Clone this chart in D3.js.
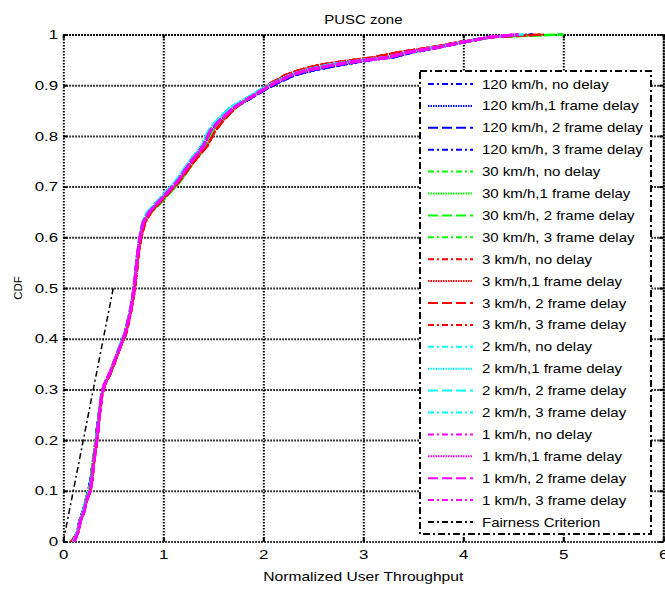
<!DOCTYPE html>
<html>
<head>
<meta charset="utf-8">
<script src="https://cdn.jsdelivr.net/npm/d3@7"></script>
<style>
  body { margin: 0; background: #fff; }
  text { font-family: "Liberation Sans", Arial, sans-serif; fill: #000; }
</style>
</head>
<body>
<script>
var cdfLevels = [0, 0.02, 0.04, 0.06, 0.08, 0.10, 0.12, 0.15, 0.18, 0.20,
  0.23, 0.26, 0.29, 0.31, 0.33, 0.35, 0.38, 0.41, 0.45, 0.49,
  0.53, 0.57, 0.60, 0.63, 0.65, 0.665, 0.68, 0.71, 0.75, 0.78,
  0.81, 0.83, 0.855, 0.87, 0.89, 0.905, 0.92, 0.93, 0.94, 0.945,
  0.95, 0.955, 0.965, 0.975, 0.985, 0.995, 1.0];

var tput120 = [0.09, 0.14, 0.16, 0.195, 0.22, 0.25, 0.27, 0.29, 0.31, 0.325,
  0.34, 0.36, 0.38, 0.41, 0.46, 0.50, 0.555, 0.615, 0.665, 0.70,
  0.72, 0.74, 0.765, 0.80, 0.86, 0.93, 1.0, 1.15, 1.29, 1.41,
  1.48, 1.57, 1.71, 1.84, 2.01, 2.15, 2.32, 2.52, 2.78, 2.93,
  3.1, 3.3, 3.5, 3.78, 4.02, 4.3, 4.7];
var tput30 = [0.10, 0.14, 0.165, 0.20, 0.22, 0.255, 0.275, 0.29, 0.31, 0.325,
  0.345, 0.36, 0.38, 0.41, 0.47, 0.51, 0.565, 0.62, 0.665, 0.70,
  0.725, 0.75, 0.775, 0.815, 0.88, 0.96, 1.03, 1.17, 1.31, 1.43,
  1.50, 1.59, 1.72, 1.83, 1.97, 2.10, 2.27, 2.45, 2.68, 2.85,
  3.05, 3.25, 3.45, 3.75, 4.0, 4.3, 5.0];
var tput3 = [0.08, 0.15, 0.17, 0.21, 0.235, 0.27, 0.29, 0.305, 0.325, 0.34,
  0.355, 0.37, 0.39, 0.42, 0.47, 0.51, 0.565, 0.63, 0.675, 0.71,
  0.735, 0.755, 0.78, 0.82, 0.88, 0.95, 1.02, 1.16, 1.31, 1.44,
  1.52, 1.60, 1.72, 1.82, 1.97, 2.08, 2.22, 2.36, 2.56, 2.72,
  2.90, 3.10, 3.35, 3.68, 3.95, 4.3, 4.8];
var tput2 = [0.10, 0.14, 0.165, 0.20, 0.225, 0.26, 0.28, 0.30, 0.32, 0.33,
  0.345, 0.365, 0.385, 0.41, 0.46, 0.50, 0.55, 0.61, 0.66, 0.695,
  0.72, 0.74, 0.76, 0.79, 0.84, 0.91, 0.98, 1.12, 1.26, 1.38,
  1.45, 1.53, 1.66, 1.79, 1.96, 2.10, 2.26, 2.42, 2.64, 2.80,
  3.00, 3.22, 3.44, 3.72, 3.98, 4.25, 4.6];
var tput1 = [0.11, 0.15, 0.17, 0.21, 0.23, 0.27, 0.285, 0.30, 0.32, 0.335,
  0.35, 0.367, 0.385, 0.41, 0.46, 0.50, 0.56, 0.617, 0.667, 0.70,
  0.724, 0.745, 0.767, 0.80, 0.86, 0.93, 1.0, 1.14, 1.28, 1.40,
  1.47, 1.56, 1.70, 1.82, 1.99, 2.12, 2.28, 2.45, 2.70, 2.85,
  3.05, 3.25, 3.45, 3.75, 4.0, 4.27, 4.55];

var fairX = [0, 0.5];
var fairY = [0, 0.5];

var speeds = ['120 km/h', '30 km/h', '3 km/h', '2 km/h', '1 km/h'];
var delays = [', no delay', ',1 frame delay', ', 2 frame delay', ', 3 frame delay'];
var speedData = [tput120, tput30, tput3, tput2, tput1];
var colors = ['#0000ff', '#00ff00', '#ff0000', '#00ffff', '#ff00ff'];
var dashes = ['6,3,2,3', '1.5,1', '10,4', '6,3,2,3'];

var xTicks = [0, 1, 2, 3, 4, 5, 6];
var yTicks = [0, 0.1, 0.2, 0.3, 0.4, 0.5, 0.6, 0.7, 0.8, 0.9, 1];

var W = 665, H = 589;
var pL = 63.3, pR = 663.3, pT = 34.5, pB = 541.5;
var sx = 1.3; // the picture is stretched sideways

var x = d3.scaleLinear().domain([0, 6]).range([pL, pR]);
var y = d3.scaleLinear().domain([0, 1]).range([pB, pT]);

var svg = d3.select('body').append('svg')
  .attr('width', W)
  .attr('height', H);

// grid
var gridStyle = function(g) {
  g.select('.domain').remove();
  g.selectAll('line')
    .attr('stroke', '#000')
    .attr('stroke-width', 2)
    .attr('stroke-dasharray', '1.5,1.5');
};
svg.append('g')
  .attr('transform', 'translate(0,' + pB + ')')
  .call(d3.axisBottom(x).tickValues(xTicks).tickSize(-(pB - pT)).tickFormat(''))
  .call(gridStyle);
svg.append('g')
  .attr('transform', 'translate(' + pL + ',0)')
  .call(d3.axisLeft(y).tickValues(yTicks).tickSize(-(pR - pL)).tickFormat(''))
  .call(gridStyle);
svg.append('g')
  .attr('transform', 'translate(0,' + pT + ')')
  .call(d3.axisTop(x).tickValues(xTicks).tickSize(-4).tickFormat(''))
  .call(function(g) {
    g.select('.domain').attr('stroke', '#000').attr('stroke-width', 2).attr('stroke-dasharray', '1.5,1.5');
    g.selectAll('line').attr('stroke', '#000').attr('stroke-width', 2);
  });
svg.append('g')
  .attr('transform', 'translate(' + pR + ',0)')
  .call(d3.axisRight(y).tickValues(yTicks).tickSize(-4).tickFormat(''))
  .call(function(g) {
    g.select('.domain').attr('stroke', '#000').attr('stroke-width', 2).attr('stroke-dasharray', '1.5,1.5');
    g.selectAll('line').attr('stroke', '#000').attr('stroke-width', 2);
  });

// curves
var line = d3.line()
  .x(function(d) { return x(d[0]); })
  .y(function(d) { return y(d[1]); });

speedData.forEach(function(arr, i) {
  var pts = arr.map(function(v, k) { return [v, cdfLevels[k]]; });
  dashes.forEach(function(da, j) {
    svg.append('path')
      .datum(pts)
      .attr('fill', 'none')
      .attr('stroke', colors[i])
      .attr('stroke-width', i == 4 ? 3 : 2.2)
      .attr('stroke-dasharray', da)
      .attr('d', line);
  });
});

svg.append('path')
  .datum(fairX.map(function(v, k) { return [v, fairY[k]]; }))
  .attr('fill', 'none')
  .attr('stroke', '#000')
  .attr('stroke-width', 1.5)
  .attr('stroke-dasharray', '6,3,2,3')
  .attr('d', line);

// axes labels and small ticks
var tickStyle = function(g, fs) {
  g.select('.domain').remove();
  g.selectAll('line').attr('stroke', '#000').attr('stroke-width', 2);
  g.selectAll('text').style('font-size', fs + 'px');
};
var xAxis = svg.append('g')
  .attr('transform', 'translate(0,' + pB + ')')
  .call(d3.axisBottom(x).tickValues(xTicks).tickSize(-4).tickPadding(8).tickFormat(d3.format('~g')))
  .call(tickStyle, 13);
xAxis.selectAll('text').attr('transform', 'scale(' + sx + ',1)');

var yAxis = svg.append('g')
  .attr('transform', 'translate(' + pL + ',0)')
  .call(d3.axisLeft(y).tickValues(yTicks).tickSize(-4).tickPadding(4).tickFormat(d3.format('~g')))
  .call(tickStyle, 13);
yAxis.selectAll('text').attr('transform', 'scale(' + sx + ',1)');

svg.append('text')
  .attr('transform', 'translate(' + ((pL + pR) / 2) + ',24) scale(1.25,1)')
  .attr('text-anchor', 'middle')
  .style('font-size', '12px')
  .text('PUSC zone');

svg.append('text')
  .attr('transform', 'translate(' + ((pL + pR) / 2) + ',581) scale(1.25,1)')
  .attr('text-anchor', 'middle')
  .style('font-size', '12.5px')
  .text('Normalized User Throughput');

svg.append('text')
  .attr('transform', 'translate(22,' + ((pT + pB) / 2) + ') rotate(-90)')
  .attr('text-anchor', 'middle')
  .style('font-size', '11.5px')
  .text('CDF');

// legend
var legX = 420, legY = 71, legW = 231, legH = 463, rowH = 21.9;
var legend = svg.append('g');
legend.append('rect')
  .attr('x', legX).attr('y', legY)
  .attr('width', legW).attr('height', legH)
  .attr('fill', '#fff')
  .attr('stroke', '#000')
  .attr('stroke-width', 2)
  .attr('stroke-dasharray', '7,3,2,3');

var entries = [];
speeds.forEach(function(s, i) {
  delays.forEach(function(d, j) {
    entries.push({ label: s + d, color: colors[i], dash: dashes[j] });
  });
});
entries.push({ label: 'Fairness Criterion', color: '#000', dash: '6,3,2,3' });

entries.forEach(function(e, k) {
  var cy = legY + 13 + k * rowH;
  legend.append('line')
    .attr('x1', 428).attr('x2', 473)
    .attr('y1', cy).attr('y2', cy)
    .attr('stroke', e.color)
    .attr('stroke-width', 2)
    .attr('stroke-dasharray', e.dash);
  legend.append('text')
    .attr('transform', 'translate(482,' + (cy + 4.5) + ') scale(1.2,1)')
    .style('font-size', '12.5px')
    .text(e.label);
});
</script>
</body>
</html>
